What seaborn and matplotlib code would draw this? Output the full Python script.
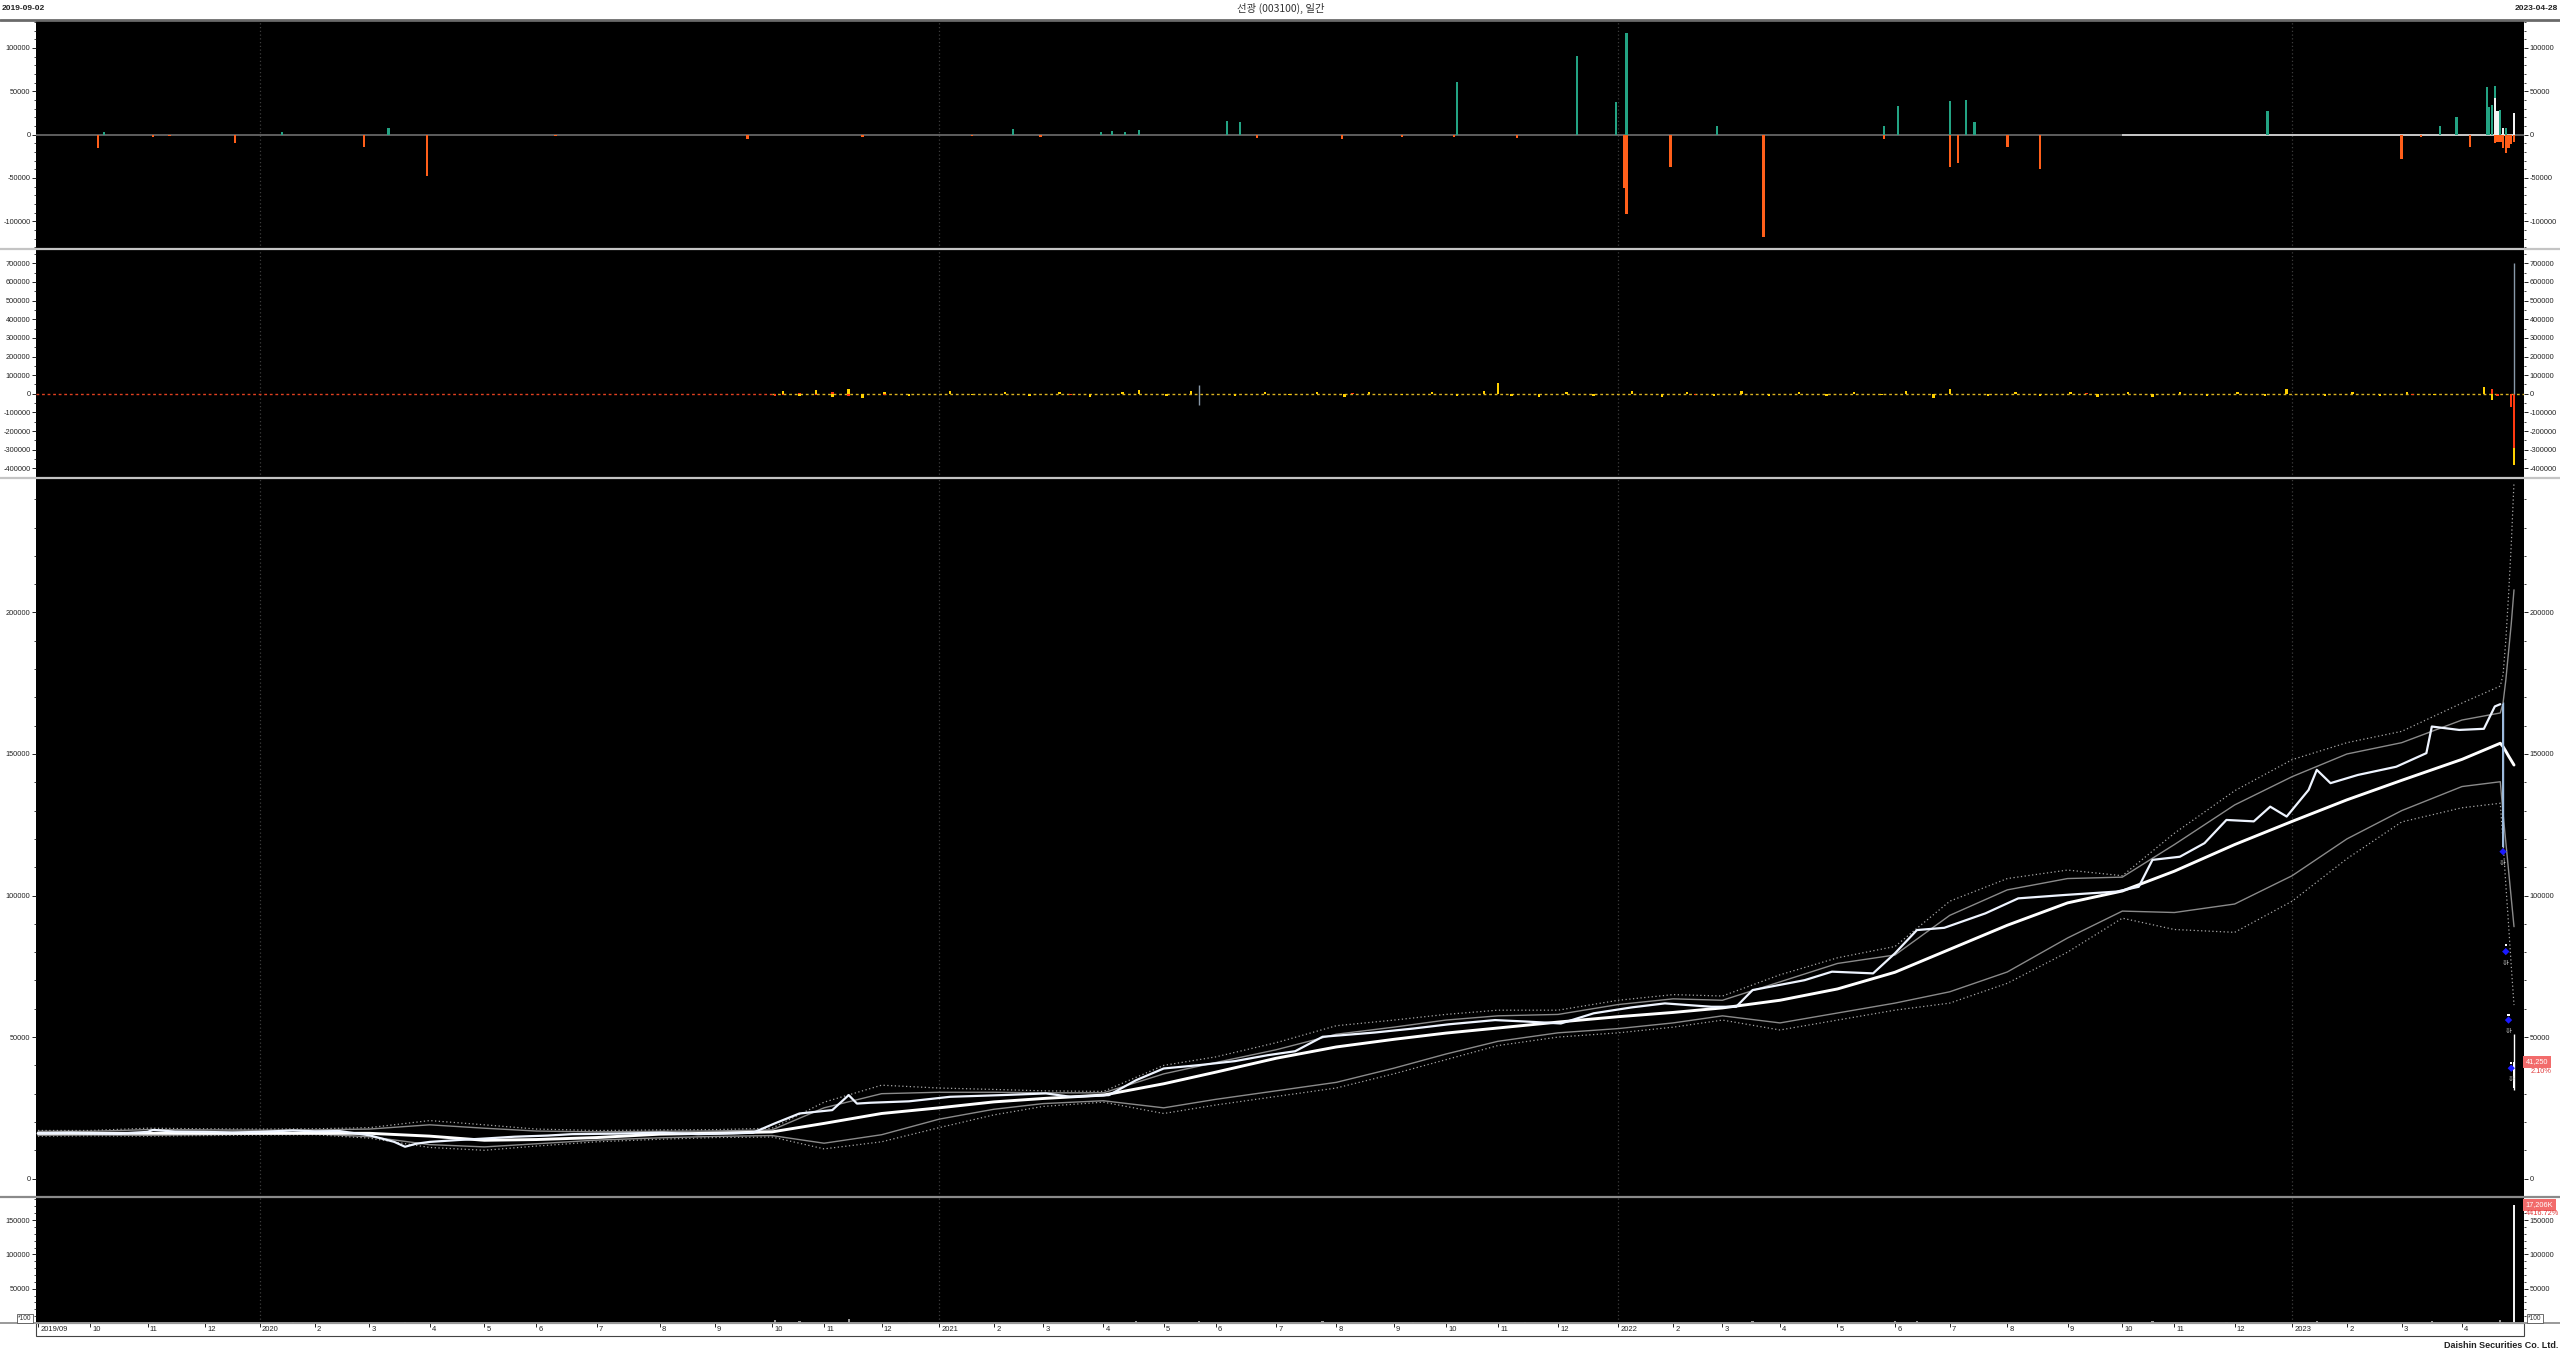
import numpy as np
import pandas as pd
import matplotlib
matplotlib.use("Agg")
import matplotlib.pyplot as plt
import matplotlib.transforms as mtransforms
from matplotlib.lines import Line2D
from matplotlib.patches import Rectangle
from matplotlib.ticker import MultipleLocator
import seaborn as sns

# ---------------------------------------------------------------- data
krx_holidays = [
    '2019-09-12', '2019-09-13', '2019-10-03', '2019-10-09', '2019-12-25', '2019-12-31',
    '2020-01-01', '2020-01-24', '2020-01-27', '2020-04-15', '2020-04-30', '2020-05-01',
    '2020-05-05', '2020-08-17', '2020-09-30', '2020-10-01', '2020-10-02', '2020-10-09',
    '2020-12-25', '2020-12-31',
    '2021-01-01', '2021-02-11', '2021-02-12', '2021-03-01', '2021-05-05', '2021-05-19',
    '2021-08-16', '2021-09-20', '2021-09-21', '2021-09-22', '2021-10-04', '2021-10-11',
    '2021-12-31',
    '2022-01-31', '2022-02-01', '2022-02-02', '2022-03-01', '2022-03-09', '2022-05-05',
    '2022-06-01', '2022-06-06', '2022-08-15', '2022-09-09', '2022-09-12', '2022-10-03',
    '2022-10-10', '2022-12-30',
    '2023-01-23', '2023-01-24', '2023-03-01',
]

month_starts = ['2019-09-01', '2023-04-01']
month_labels = ['2019/09', '10', '11', '12',
                '2020', '2', '3', '4', '5', '6', '7', '8', '9', '10', '11', '12',
                '2021', '2', '3', '4', '5', '6', '7', '8', '9', '10', '11', '12',
                '2022', '2', '3', '4', '5', '6', '7', '8', '9', '10', '11', '12',
                '2023', '2', '3', '4']
year_starts = ['2020-01-02', '2021-01-04', '2022-01-03', '2023-01-02']

# closing prices read along the candle track
price_dates = [
    '2019-09-02', '2019-09-20', '2019-10-01', '2019-10-18', '2019-11-01', '2019-11-05',
    '2019-11-15', '2019-12-02', '2019-12-16', '2020-01-02', '2020-01-20', '2020-02-03',
    '2020-02-14', '2020-03-02', '2020-03-13', '2020-03-19', '2020-03-25', '2020-04-01',
    '2020-04-16', '2020-05-04', '2020-05-20', '2020-06-05', '2020-06-18', '2020-07-10',
    '2020-08-04', '2020-08-24', '2020-09-10', '2020-09-21', '2020-10-06', '2020-10-20',
    '2020-11-05', '2020-11-13', '2020-11-18', '2020-11-25', '2020-12-15', '2021-01-08',
    '2021-02-04', '2021-03-03', '2021-03-16', '2021-04-05', '2021-04-19', '2021-05-03',
    '2021-05-24', '2021-06-10', '2021-06-28', '2021-07-12', '2021-07-26', '2021-08-23',
    '2021-09-10', '2021-10-05', '2021-10-29', '2021-11-15', '2021-12-02', '2021-12-20',
    '2022-01-10', '2022-01-26', '2022-02-23', '2022-03-10', '2022-03-18', '2022-04-14',
    '2022-04-28', '2022-05-20', '2022-06-02', '2022-06-15', '2022-06-29', '2022-07-20',
    '2022-08-05', '2022-08-31', '2022-09-29', '2022-10-13', '2022-10-20', '2022-11-03',
    '2022-11-16', '2022-11-28', '2022-12-12', '2022-12-20', '2022-12-28', '2023-01-10',
    '2023-01-13', '2023-01-20', '2023-02-07', '2023-02-27', '2023-03-15', '2023-03-17',
    '2023-03-31', '2023-04-13', '2023-04-19', '2023-04-21',
]
price_close = [
    16000, 16200, 16000, 15900, 16500, 17200,
    16600, 16500, 16300, 16500, 17000, 16700,
    16800, 15300, 13000, 11250, 12300, 12970,
    13600, 14150, 14800, 15200, 15700, 15900,
    16200, 15700, 16000, 16200, 19500, 23000,
    24200, 29500, 26500, 26800, 27300, 28900,
    29500, 30100, 28900, 29500, 34800, 38900,
    40100, 41500, 43600, 45000, 50100, 51600,
    53000, 54500, 56000, 55500, 54800, 58400,
    60500, 61900, 60700, 60700, 66600, 70100,
    73100, 72500, 79600, 87800, 88600, 93700,
    99000, 100200, 101400, 103100, 112600, 113700,
    118500, 126700, 126200, 131400, 127900, 137300,
    144400, 139700, 142600, 145500, 150300, 159700,
    158500, 158900, 166800, 167600,
]

# last five sessions drawn as candles
crash_dates = ['2023-04-24', '2023-04-25', '2023-04-26', '2023-04-27', '2023-04-28']
crash_open = [167600, 82100, 57500, 40400, 32000]
crash_high = [168500, 82100, 57500, 40400, 51000]
crash_low = [117300, 82100, 57500, 40400, 31300]
crash_close = [117300, 82100, 57500, 40400, 41250]

limit_dates = ['2023-04-24', '2023-04-25', '2023-04-26', '2023-04-27']
limit_marker = [115500, 80200, 56000, 39000]

# moving average and bands
band_dates = [
    '2019-09-02', '2019-10-01', '2019-11-01', '2019-12-02',
    '2020-01-02', '2020-02-03', '2020-03-02', '2020-04-01', '2020-05-04', '2020-06-01',
    '2020-07-01', '2020-08-03', '2020-09-01', '2020-10-05', '2020-11-02', '2020-12-01',
    '2021-01-04', '2021-02-01', '2021-03-02', '2021-04-01', '2021-05-03', '2021-06-01',
    '2021-07-01', '2021-08-02', '2021-09-01', '2021-10-01', '2021-11-01', '2021-12-01',
    '2022-01-03', '2022-02-03', '2022-03-02', '2022-04-01', '2022-05-02', '2022-06-02',
    '2022-07-01', '2022-08-01', '2022-09-01', '2022-10-04', '2022-11-01', '2022-12-01',
    '2023-01-02', '2023-02-01', '2023-03-02', '2023-04-03',
    '2023-04-21', '2023-04-24', '2023-04-25', '2023-04-26', '2023-04-27', '2023-04-28',
]
ma_line = [
    15970, 16000, 16000, 16000,
    16000, 16000, 16000, 15000, 13540, 13800, 14500, 15700, 16050, 16500, 19500, 23000,
    25000, 27100, 28300, 29500, 33500, 37600, 42500, 46500, 49200, 51400, 53200, 55300,
    57200, 58700, 60300, 63000, 67000, 72900, 81000, 89500, 97400, 101600, 108600, 118000,
    126200, 133800, 140700, 148100,
    153800, 152600, 151000, 149300, 147700, 146100,
]
upper_dot = [
    17000, 17000, 17800, 17600,
    17500, 17600, 18000, 20500, 19000, 17500, 17000, 17200, 17300, 17800, 27000, 33000,
    32000, 31500, 31000, 30800, 40000, 43000, 48000, 54000, 56000, 58000, 59500, 59500,
    63000, 65000, 64500, 72000, 78000, 82000, 98000, 106000, 109000, 107000, 122000, 137000,
    148000, 154000, 158000, 168000,
    174000, 178000, 190000, 206000, 224000, 246000,
]
upper_sol = [
    16700, 16700, 17300, 17200,
    17100, 17200, 17500, 19000, 17800, 16800, 16500, 16700, 16800, 17200, 25000, 30000,
    30500, 30500, 30300, 30300, 37000, 41000, 45500, 51000, 53500, 56000, 57500, 58000,
    61500, 63500, 63000, 69500, 76000, 79000, 93000, 102000, 106000, 106500, 118000, 132000,
    142000, 150000, 154000, 162000,
    164500, 168000, 176000, 186000, 196000, 208000,
]
lower_sol = [
    15300, 15400, 15300, 15500,
    15700, 15800, 14800, 12000, 11200, 12300, 13600, 14400, 14900, 15200, 12500, 15500,
    21000, 24500, 26500, 27500, 25000, 28000, 31000, 34000, 39000, 44000, 48500, 51500,
    53000, 55000, 57500, 55000, 58500, 62000, 66000, 73000, 85000, 94500, 94000, 97000,
    107000, 120000, 130000, 138500,
    140200, 129000, 119000, 109000, 99000, 89000,
]
lower_dot = [
    15000, 15100, 15000, 15200,
    15400, 15500, 14300, 11000, 10000, 11500, 13000, 13900, 14500, 14700, 10500, 13000,
    18000, 22500, 25500, 27000, 23000, 26000, 29000, 32000, 37000, 42000, 47000, 50000,
    51500, 53500, 56000, 52500, 56000, 59500, 62000, 69000, 80000, 92000, 88000, 87000,
    98000, 113000, 126000, 131000,
    132600, 119000, 104000, 90000, 75000, 61300,
]

# top panel: investor net buying
net_green = [
    ('2019-10-10', 3000), ('2020-01-14', 2500), ('2020-03-11', 8000), ('2021-02-10', 6000),
    ('2021-03-31', 3000), ('2021-04-06', 4000), ('2021-04-13', 3000), ('2021-04-20', 5000),
    ('2021-06-07', 16000), ('2021-06-14', 14000), ('2021-10-08', 61000), ('2021-12-10', 91000),
    ('2021-12-30', 37000), ('2022-01-06', 117000), ('2022-02-25', 10000), ('2022-05-26', 10000),
    ('2022-06-03', 33000), ('2022-07-01', 39000), ('2022-07-11', 40000), ('2022-07-14', 14000),
    ('2022-12-19', 27000), ('2023-03-22', 10000), ('2023-03-30', 20000), ('2023-04-14', 55000),
    ('2023-04-17', 32000), ('2023-04-18', 34000), ('2023-04-19', 56000), ('2023-04-21', 28000),
    ('2023-04-25', 8000),
]
net_white = [
    ('2023-04-19', 42000), ('2023-04-20', 27000), ('2023-04-24', 7000), ('2023-04-28', 25000),
]
net_orange = [
    ('2019-10-07', -15000), ('2019-11-05', -2500), ('2019-11-13', -2000), ('2019-12-17', -10000),
    ('2020-02-27', -14000), ('2020-03-31', -48000), ('2020-06-10', -2000), ('2020-09-17', -5000),
    ('2020-11-20', -2500), ('2021-01-20', -2000), ('2021-02-26', -3000), ('2021-06-22', -4000),
    ('2021-08-04', -5000), ('2021-09-06', -3000), ('2021-10-07', -3000), ('2021-11-10', -4000),
    ('2022-01-05', -62000), ('2022-01-06', -92000), ('2022-01-28', -37000), ('2022-03-24', -118000),
    ('2022-05-26', -5000), ('2022-07-01', -37000), ('2022-07-06', -33000), ('2022-08-01', -14000),
    ('2022-08-18', -40000), ('2023-03-02', -28500), ('2023-03-13', -3000), ('2023-04-06', -14000),
    ('2023-04-19', -10000), ('2023-04-20', -9000), ('2023-04-21', -8000), ('2023-04-24', -15000),
    ('2023-04-25', -21000), ('2023-04-26', -16000), ('2023-04-27', -11000), ('2023-04-28', -8000),
]

# second panel: program / flow bars
flow_yellow = [
    ('2020-10-06', -8000), ('2020-10-12', 15000), ('2020-10-20', -12000), ('2020-10-28', 20000),
    ('2020-11-05', -15000), ('2020-11-13', 28000), ('2020-11-20', -20000), ('2020-12-02', 12000),
    ('2020-12-15', -10000), ('2021-01-08', 14000), ('2021-01-20', -9000), ('2021-02-05', 10000),
    ('2021-02-22', -12000), ('2021-03-10', 8000), ('2021-03-25', -15000), ('2021-04-12', 12000),
    ('2021-04-20', 18000), ('2021-05-04', -14000), ('2021-05-18', 16000), ('2021-06-10', -10000),
    ('2021-06-25', 12000), ('2021-07-08', -8000), ('2021-07-22', 9000), ('2021-08-05', -16000),
    ('2021-08-19', 11000), ('2021-09-06', -9000), ('2021-09-24', 10000), ('2021-10-08', -12000),
    ('2021-10-25', 14000), ('2021-11-01', 60000), ('2021-11-08', -10000), ('2021-11-22', -15000),
    ('2021-12-06', 12000), ('2021-12-20', -12000), ('2022-01-10', 14000), ('2022-01-25', -18000),
    ('2022-02-10', 10000), ('2022-02-24', -10000), ('2022-03-14', 15000), ('2022-03-28', -12000),
    ('2022-04-12', 8000), ('2022-04-26', -14000), ('2022-05-11', 12000), ('2022-05-25', -9000),
    ('2022-06-09', 16000), ('2022-06-23', -20000), ('2022-07-01', 25000), ('2022-07-21', -12000),
    ('2022-08-04', 10000), ('2022-08-18', -14000), ('2022-09-02', 12000), ('2022-09-20', -18000),
    ('2022-10-06', 9000), ('2022-10-20', -16000), ('2022-11-03', 11000), ('2022-11-17', -12000),
    ('2022-12-02', 9000), ('2022-12-16', -10000), ('2022-12-28', 25000), ('2023-01-18', -11000),
    ('2023-02-03', 8000), ('2023-02-17', -14000), ('2023-03-06', 10000), ('2023-03-20', -9000),
    ('2023-04-13', 35000), ('2023-04-18', -35000), ('2023-04-28', -380000),
]
flow_red = [
    ('2020-10-06', -12000), ('2020-10-12', -8000), ('2020-10-20', 5000), ('2020-10-28', -6000),
    ('2020-11-05', 8000), ('2020-11-13', -10000), ('2020-12-02', -5000), ('2021-03-16', -6000),
    ('2021-08-10', 5000), ('2022-02-15', -6000), ('2022-09-14', 5000), ('2023-03-08', -8000),
    ('2023-04-18', 25000), ('2023-04-20', -12000), ('2023-04-27', -70000), ('2023-04-28', -290000),
]
flow_gray = [('2021-05-24', -60000, 45000), ('2023-04-28', 0, 700000)]

# volume (x100 shares)
vol_dates = ['2019-09-16', '2019-11-05', '2020-01-20', '2020-03-19', '2020-05-20', '2020-07-10',
             '2020-09-21', '2020-10-06', '2020-10-20', '2020-11-13', '2020-12-15', '2021-02-04',
             '2021-04-19', '2021-05-24', '2021-07-26', '2021-09-10', '2021-11-15', '2022-01-10',
             '2022-03-18', '2022-06-02', '2022-06-15', '2022-08-05', '2022-10-20', '2022-11-28',
             '2023-01-13', '2023-03-17', '2023-04-21', '2023-04-24', '2023-04-25', '2023-04-26',
             '2023-04-27', '2023-04-28']
vol_vals = [600, 1500, 900, 1800, 700, 500, 600, 4000, 3500, 6000, 1500, 1200,
            3000, 2500, 2200, 1500, 1200, 1800, 2500, 3000, 2800, 2000, 2500, 2000,
            3000, 3500, 3800, 1200, 300, 400, 600, 172060]

last_price_label = '41,250'
last_change_label = '2.10%'
last_volume_label = '17,206K'
last_volume_change = '4416.72%'
last_price = 41250
last_volume = 172060

# ---------------------------------------------------------------- helpers
START = np.datetime64('2019-09-02')
HOL = np.array(krx_holidays, dtype='datetime64[D]')


def bar_idx(dates):
    d = np.array(dates, dtype='datetime64[D]')
    return np.busday_count(START, d, holidays=HOL)


W, H = 2560, 1353
LAST = int(bar_idx(['2023-04-28'])[0])
PXB = (2514 - 38) / LAST
XMIN = -2 / PXB
XMAX = LAST + 10 / PXB

sns.set_theme(style="dark", rc={"axes.facecolor": "black", "figure.facecolor": "white",
                                "patch.force_edgecolor": False})
plt.rcParams['font.family'] = ['Liberation Sans', 'Noto Sans CJK KR', 'DejaVu Sans']
plt.rcParams['axes.unicode_minus'] = False

fig = plt.figure(figsize=(W / 100, H / 100), dpi=100, facecolor='white')

TICKC = '#222222'


def panel(top, bottom, ylim, majors, minor):
    ax = fig.add_axes([36 / W, 1 - bottom / H, 2488 / W, (bottom - top) / H])
    ax.set_facecolor('black')
    ax.set_xlim(XMIN, XMAX)
    ax.set_ylim(*ylim)
    for s in ax.spines.values():
        s.set_visible(False)
    ax.grid(False)
    ax.set_yticks(majors)
    ax.set_yticklabels([str(v) for v in majors])
    ax.yaxis.set_minor_locator(MultipleLocator(minor))
    ax.tick_params(axis='y', which='both', direction='out', left=True, right=True,
                   labelleft=True, labelright=True, colors=TICKC, labelsize=5.3, pad=1)
    ax.tick_params(axis='y', which='major', length=3, width=0.7)
    ax.tick_params(axis='y', which='minor', length=1.6, width=0.6)
    ax.tick_params(axis='x', which='both', bottom=False, labelbottom=False)
    for d in year_starts:
        ax.axvline(bar_idx([d])[0], color='#3c3c3c', lw=0.9, ls=(0, (1, 2)), zorder=0)
    return ax


def split(pairs):
    d = [p[0] for p in pairs]
    v = [p[1] for p in pairs]
    return bar_idx(d), np.array(v, float)


BARKW = dict(edgecolor='none', linewidth=0)

# ---------------------------------------------------------------- panel 1
ax1 = panel(21, 249, (-132000, 131000), [-100000, -50000, 0, 50000, 100000], 10000)
ax1.axhline(0, color='#6e6e6e', lw=1.2, zorder=1)
ax1.hlines(0, bar_idx(['2022-10-04'])[0], LAST, color='#d8d8d8', lw=1.2, zorder=1)
gx, gv = split(net_green)
ax1.bar(gx, gv, width=0.8, color='#23a383', zorder=2, **BARKW)
wx, wv = split(net_white)
ax1.bar(wx, wv, width=0.8, color='#f4f4f4', zorder=3, **BARKW)
ox, ov = split(net_orange)
ax1.bar(ox, ov, width=0.9, color='#ff5f1a', zorder=3, **BARKW)

# ---------------------------------------------------------------- panel 2
ax2 = panel(249, 478, (-452000, 777000), list(range(-400000, 700001, 100000)), 50000)
split_x = bar_idx(['2020-10-05'])[0]
ax2.hlines(0, XMIN, split_x, colors='#e04020', linestyles=(0, (2, 2)), lw=1.0, zorder=1)
ax2.hlines(0, split_x, XMAX, colors='#d8b020', linestyles=(0, (2, 2)), lw=1.0, zorder=1)
yx, yv = split(flow_yellow)
ax2.bar(yx, yv, width=0.9, color='#ffd000', zorder=2, **BARKW)
rx, rv = split(flow_red)
ax2.bar(rx, rv, width=0.9, color='#ff3a10', zorder=3, **BARKW)
for d, lo, hi in flow_gray:
    ax2.vlines(bar_idx([d])[0], lo, hi, color='#8898a8', lw=1.0, zorder=4)

# ---------------------------------------------------------------- panel 3 (price)
ax3 = panel(478, 1197, (-6500, 247500), [0, 50000, 100000, 150000, 200000], 10000)


def sline(ax, dates, vals, **kw):
    sns.lineplot(x=bar_idx(dates), y=np.asarray(vals, float), ax=ax, estimator=None,
                 sort=False, legend=False, **kw)


sline(ax3, band_dates, upper_dot, color='#a8a8a8', linewidth=0.9, linestyle=(0, (1, 2)))
sline(ax3, band_dates, lower_dot, color='#a8a8a8', linewidth=0.9, linestyle=(0, (1, 2)))
sline(ax3, band_dates, upper_sol, color='#8a8a8a', linewidth=1.0)
sline(ax3, band_dates, lower_sol, color='#8a8a8a', linewidth=1.0)
sline(ax3, band_dates, ma_line, color='white', linewidth=2.1)
sline(ax3, price_dates, price_close, color='#eef4ff', linewidth=1.6)

cx = bar_idx(crash_dates)
co = np.array(crash_open, float)
cc = np.array(crash_close, float)
ch = np.array(crash_high, float)
cl = np.array(crash_low, float)
ccol = ['#9dbbdc' if c < o else '#ffffff' for o, c in zip(co, cc)]
ax3.vlines(cx, cl, ch, colors=ccol, lw=1.0, zorder=4)
ax3.bar(cx, np.maximum(np.abs(cc - co), 700), bottom=np.minimum(co, cc), width=0.8,
        color=ccol, zorder=5, **BARKW)
sns.scatterplot(x=bar_idx(limit_dates), y=np.array(limit_marker, float), ax=ax3,
                marker='D', color='#1a1aff', s=14, edgecolor='none', zorder=6, legend=False)
for d, v in zip(limit_dates, limit_marker):
    ax3.text(bar_idx([d])[0], v - 2500, '하', color='#d0d0d0', fontsize=4.5,
             ha='center', va='top', family=['Noto Sans CJK KR'], zorder=6)

tr3 = mtransforms.blended_transform_factory(ax3.transAxes, ax3.transData)
ax3.text(1.0006, last_price, last_price_label, transform=tr3, fontsize=5.3, color='white',
         ha='left', va='center',
         bbox=dict(boxstyle='square,pad=0.35', fc='#f26b6b', ec='none'), zorder=10)
ax3.text(1.0025, last_price - 3300, last_change_label, transform=tr3, fontsize=5.3,
         color='#e03a3a', ha='left', va='center', zorder=10)

# ---------------------------------------------------------------- panel 4 (volume)
ax4 = panel(1197, 1323, (0, 183600), [50000, 100000, 150000], 10000)
vx = bar_idx(vol_dates)
vv = np.array(vol_vals, float)
ax4.bar(vx, vv, width=0.8, color=['#9a9a9a'] * (len(vv) - 1) + ['#f0f0f0'], zorder=2, **BARKW)
tr4 = mtransforms.blended_transform_factory(ax4.transAxes, ax4.transData)
ax4.text(1.0006, last_volume, last_volume_label, transform=tr4, fontsize=5.3, color='white',
         ha='left', va='center',
         bbox=dict(boxstyle='square,pad=0.35', fc='#f26b6b', ec='none'), zorder=10)
ax4.text(1.0006, last_volume - 13000, last_volume_change, transform=tr4, fontsize=5.3,
         color='#e03a3a', ha='left', va='center', zorder=10)

# month ticks on date strip
mfirst = pd.date_range(month_starts[0], month_starts[1], freq='MS').values.astype('datetime64[D]')
mtick = np.busday_offset(mfirst, 0, roll='forward', holidays=HOL)
mx = np.busday_count(START, mtick, holidays=HOL)
ax4.set_xticks(mx)
ax4.tick_params(axis='x', which='major', bottom=True, labelbottom=False, direction='out',
                length=3, width=0.7, color=TICKC)
trx = mtransforms.blended_transform_factory(ax4.transData, ax4.transAxes)
for x, lab in zip(mx, month_labels):
    ax4.text(x + 0.8, -0.025, lab, transform=trx, fontsize=5.5, color=TICKC,
             ha='left', va='top')


# ---------------------------------------------------------------- frame decorations
def hline_px(y, color, lw, x0=0, x1=W):
    fig.add_artist(Line2D([x0 / W, x1 / W], [1 - y / H, 1 - y / H], transform=fig.transFigure,
                          color=color, lw=lw))


hline_px(20, '#6a6a6a', 2.0)
hline_px(249, '#c4c4c4', 1.6)
hline_px(478, '#c4c4c4', 1.6)
hline_px(1197, '#8a8a8a', 1.6)
hline_px(1323, '#9a9a9a', 1.4)
fig.add_artist(Rectangle((36 / W, 1 - 1336 / H), 2488 / W, 13 / H, transform=fig.transFigure,
                         fill=False, ec='#444444', lw=0.8))

fig.text(2 / W, 1 - 8 / H, '2019-09-02', fontsize=6, weight='bold', color='#222222',
         ha='left', va='center')
fig.text(2558 / W, 1 - 8 / H, '2023-04-28', fontsize=6, weight='bold', color='#222222',
         ha='right', va='center')
fig.text(1281 / W, 1 - 8 / H, '선광 (003100), 일간', fontsize=7.5, color='#333333',
         ha='center', va='center', family=['Noto Sans CJK KR', 'DejaVu Sans'])
fig.text(2558 / W, 1 - 1346 / H, 'Daishin Securities Co. Ltd.', fontsize=6.5, weight='bold',
         color='#222222', ha='right', va='center')
for xp in (25, 2535):
    fig.text(xp / W, 1 - 1318 / H, '*100', fontsize=4.8, color='#333333', ha='center',
             va='center', bbox=dict(boxstyle='square,pad=0.15', fc='white', ec='#555555', lw=0.6))

fig.savefig('out.png', dpi=100, facecolor='white')
